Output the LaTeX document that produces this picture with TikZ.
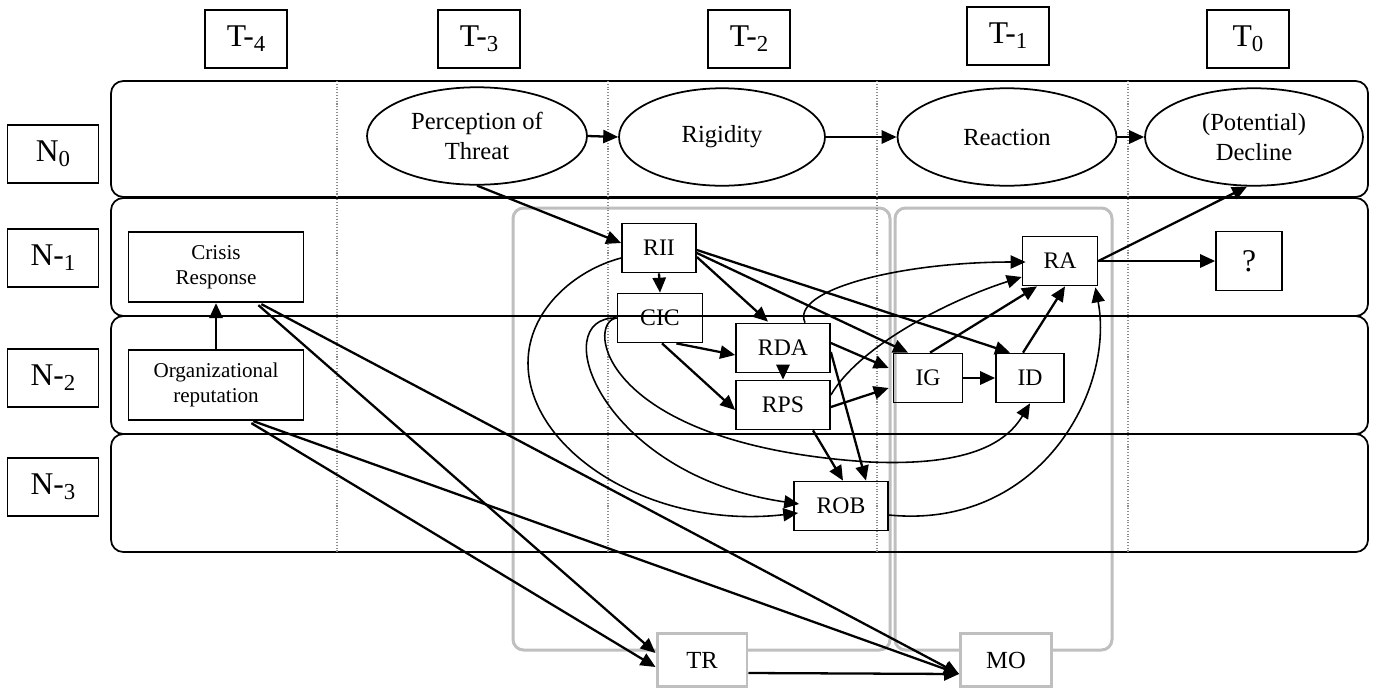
\documentclass[tikz,border=0pt]{standalone}
\usepackage{fontspec}
\setmainfont{Liberation Serif}
\usepackage{tikz}
\usetikzlibrary{shapes.geometric, arrows.meta, positioning, calc}
\definecolor{grpgray}{RGB}{191,191,191}
\definecolor{dotgray}{RGB}{140,140,140}
\newcommand{\lowidx}[1]{\raisebox{-0.35ex}{\fontsize{13}{15}\selectfont #1}}

\tikzset{
  lane/.style={draw, line width=1pt, rounded corners=7pt},
  lbl/.style={draw, line width=1pt, minimum width=1.64cm, minimum height=1.16cm, inner sep=0pt, font=\fontsize{18}{20}\selectfont},
  oval/.style={draw, ellipse, line width=1pt, minimum height=1.95cm, inner sep=0pt, align=center, font=\fontsize{14}{17}\selectfont},
  var/.style={draw, line width=1pt, minimum height=0.98cm, inner sep=0pt, font=\fontsize{13.5}{15}\selectfont},
  big/.style={draw, line width=1pt, minimum width=3.5cm, minimum height=1.41cm, inner sep=0pt, align=center, font=\fontsize{12}{14}\selectfont},
  grp/.style={draw=grpgray, line width=1.7pt, rounded corners=6pt},
  outc/.style={draw=grpgray, fill=white, line width=1.7pt, minimum width=1.8cm, minimum height=1.06cm, inner sep=0pt, font=\fontsize{14}{16}\selectfont},
  arr/.style={line width=1.3pt, -{Triangle[length=8.5pt,width=7.5pt]}},
  carr/.style={line width=0.9pt, -{Triangle[length=8.5pt,width=7.5pt]}}
}

\begin{document}
\begin{tikzpicture}[x=0.02cm, y=-0.02cm]
\useasboundingbox (0,0) rectangle (1378,687);

% Groups
\draw[grp] (513,208) rectangle (890,650);
\draw[grp] (895,208) rectangle (1112,650);

% Lanes
\draw[lane] (111,81) rectangle (1368,197);
\draw[lane] (111,198) rectangle (1368,316);
\draw[lane] (111,316) rectangle (1368,434);
\draw[lane] (111,434) rectangle (1368,552);
\foreach \x in {337,608,877,1128}
  \draw[dotgray, densely dotted, line width=0.6pt] (\x,81) -- (\x,552);

% Time labels
\node[lbl] (T4) at (246,39) {T-\lowidx{4}};
\node[lbl] (T3) at (479,39) {T-\lowidx{3}};
\node[lbl] (T2) at (749,39) {T-\lowidx{2}};
\node[lbl] (T1) at (1008,36) {T-\lowidx{1}};
\node[lbl] (T0) at (1248,39) {T\lowidx{0}};

% Level labels
\node[lbl, minimum width=1.82cm] (N0) at (53,154) {N\lowidx{0}};
\node[lbl, minimum width=1.82cm] (N1) at (53,258) {N-\lowidx{1}};
\node[lbl, minimum width=1.82cm] (N2) at (53,378) {N-\lowidx{2}};
\node[lbl, minimum width=1.82cm] (N3) at (53,487) {N-\lowidx{3}};

% Level 0
\node[oval, minimum width=4.4cm] (PoT) at (477,136) {Perception of\\Threat};
\node[oval, minimum width=4.12cm] (Rig) at (722,137) {Rigidity};
\node[oval, minimum width=4.38cm] (Rea) at (1007,137) {Reaction};
\node[oval, minimum width=4.36cm] (Dec) at (1254,137) {(Potential)\\Decline};

% Organization
\node[big] (Cri) at (216,267) {Crisis\\Response};
\node[big] (Org) at (216,385) {Organizational\\reputation};

% Rigidity variables
\node[var, minimum width=1.48cm] (RII) at (659,248) {RII};
\node[var, minimum width=1.7cm] (CIC) at (660,318) {CIC};
\node[var, minimum width=1.88cm] (RDA) at (783,348) {RDA};
\node[var, minimum width=1.88cm] (RPS) at (783,405) {RPS};
\node[var, minimum width=1.88cm] (ROB) at (841,506) {ROB};

% Reaction variables
\node[var, minimum width=1.38cm] (IG) at (928,378) {IG};
\node[var, minimum width=1.36cm] (ID) at (1030,378) {ID};
\node[var, minimum width=1.5cm] (RA) at (1060,261) {RA};
\node[var, minimum width=1.32cm, minimum height=1.18cm, font=\fontsize{18}{20}\selectfont] (Q) at (1249,261) {?};

% Outcomes
\node[outc] (TR) at (702,660) {TR};
\node[outc, minimum width=1.82cm] (MO) at (1006,660) {MO};

% Main chain
\draw[arr] (PoT.east) -- (Rig.west);
\draw[arr] (Rig.east) -- (Rea.west);
\draw[arr] (Rea.east) -- (Dec.west);
\draw[arr] (PoT.south) -- ($(RII.west)+(0,-5)$);

% Rigidity links
\draw[arr] (RII.south) -- (CIC.north);
\draw[arr] ($(RII.east)+(0,9)$) -- ($(RDA.north)+(-15,-1)$);
\draw[arr] ($(RII.east)+(0,5)$) -- ($(IG.north)+(-20,0)$);
\draw[arr] ($(RII.east)+(0,2)$) -- ($(ID.north)+(-20,0)$);
\draw[arr] ($(CIC.south east)+(-27,0)$) -- ($(RDA.west)+(0,7)$);
\draw[arr] ($(CIC.south)+(2,0)$) -- ($(RPS.west)+(0,5)$);
\draw[arr] (RDA.south) -- (RPS.north);
\draw[arr] ($(RDA.east)+(0,-5)$) -- ($(IG.west)+(-4,-10)$);
\draw[arr] ($(RPS.east)+(0,2)$) -- ($(IG.west)+(-4,10)$);
\draw[arr] ($(RDA.east)+(0,4)$) -- ($(ROB.north)+(25,0)$);
\draw[arr] ($(RPS.south)+(30,0)$) -- ($(ROB.north)+(2,0)$);
\draw[carr] ($(RII.west)+(0,10)$) .. controls (575,270) and (528,310) .. (528,363)
  .. controls (528,450) and (650,530) .. ($(ROB.west)+(5,7)$);
\draw[carr] (CIC.west) .. controls (545,316) and (600,475) .. ($(ROB.west)+(6,-2)$);
\draw[carr] (CIC.west) .. controls (585,322) and (600,445) .. (870,462)
  .. controls (965,466) and (1005,445) .. (ID.south);
\draw[carr] ($(RDA.north)+(22,0)$) .. controls (790,290) and (900,262) .. ($(RA.west)+(4,1)$);
\draw[carr] ($(RPS.east)+(0,-10)$) .. controls (860,345) and (950,300) .. ($(RA.west)+(0,16)$);
\draw[carr] ($(ROB.east)+(0,9)$) .. controls (1040,530) and (1115,390) .. ($(RA.south east)+(-3,1)$);

% Reaction links
\draw[arr] (IG.east) -- (ID.west);
\draw[arr] ($(IG.north)+(2,0)$) -- ($(RA.south)+(-23,0)$);
\draw[arr] ($(ID.north)+(-7,0)$) -- ($(RA.south)+(5,0)$);
\draw[arr] (RA.east) -- (Q.west);
\draw[arr] (RA.east) -- ($(Dec.south)+(-7,0)$);

% Organization links
\draw[arr] (Org.north) -- (Cri.south);
\draw[arr] ($(Cri.south east)+(-46,2)$) -- ($(TR.west)+(0,-7)$);
\draw[arr] ($(Cri.south east)+(-43,1)$) -- ($(MO.west)+(0,14)$);
\draw[arr] ($(Org.south east)+(-53,2)$) -- ($(TR.west)+(0,7)$);
\draw[arr] ($(Org.south east)+(-51,0)$) -- ($(MO.west)+(0,14)$);
\draw[arr] ($(TR.east)+(0,13)$) -- ($(MO.west)+(0,14)$);
\end{tikzpicture}
\end{document}
